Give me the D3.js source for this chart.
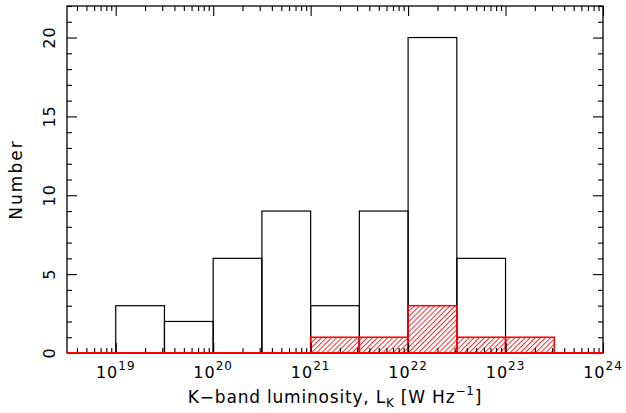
<!doctype html>
<html lang="en">
<head>
  <meta charset="utf-8">
  <title>K-band luminosity histogram</title>
</head>
<style>
body { margin: 0; background: #fff; }
svg text { font-family: "DejaVu Sans", sans-serif; fill: #000; }
</style>
<body>
  <script src="https://cdn.jsdelivr.net/npm/d3@7/dist/d3.min.js"></script>
  <script>

	// bin edges in log10(L_K), half-decade bins
	var binLo = [19, 19.5, 20, 20.5, 21, 21.5, 22, 22.5, 23];
	var allCounts = [3, 2, 6, 9, 3, 9, 20, 6, 0];
	var redCounts = [0, 0, 0, 0, 1, 1, 3, 1, 1];
	var decades = [19, 20, 21, 22, 23, 24];
	var yMajor = [0, 5, 10, 15, 20];

	var W = 626, H = 413,
		margin = { top: 6, right: 23, bottom: 60, left: 67 },
		width = W - margin.left - margin.right,
		height = H - margin.top - margin.bottom;

	var svg = d3.select("body").append("svg")
		.attr("width", W)
		.attr("height", H);

	var defs = svg.append("defs");
	defs.append("pattern")
		.attr("id", "hatch")
		.attr("patternUnits", "userSpaceOnUse")
		.attr("width", 3.6)
		.attr("height", 4)
		.attr("patternTransform", "rotate(45)")
		.append("line")
		.attr("x1", 0).attr("y1", 0)
		.attr("x2", 0).attr("y2", 4)
		.attr("stroke", "#ff0000")
		.attr("stroke-width", 1.6);

	var g = svg.append("g").attr("transform", "translate(" + margin.left + "," + margin.top + ")");

	// log10 values mapped linearly
	var x = d3.scaleLinear().domain([18.5, 24]).range([0, width]);
	var y = d3.scaleLinear().domain([0, 22]).range([height, 0]);

	// black histogram
	g.selectAll(".allbar")
		.data(binLo.filter(function (d, i) { return allCounts[i] > 0; }))
		.join("rect")
		.classed("allbar", true)
		.attr("x", function (d) { return x(d); })
		.attr("width", function (d) { return x(d + 0.5) - x(d); })
		.attr("y", function (d) { return y(allCounts[binLo.indexOf(d)]); })
		.attr("height", function (d) { return height - y(allCounts[binLo.indexOf(d)]); })
		.attr("fill", "none")
		.attr("stroke", "#000")
		.attr("stroke-width", 1.2);

	// red hatched histogram
	g.selectAll(".redbar")
		.data(binLo.filter(function (d, i) { return redCounts[i] > 0; }))
		.join("rect")
		.classed("redbar", true)
		.attr("x", function (d) { return x(d); })
		.attr("width", function (d) { return x(d + 0.5) - x(d); })
		.attr("y", function (d) { return y(redCounts[binLo.indexOf(d)]); })
		.attr("height", function (d) { return height - y(redCounts[binLo.indexOf(d)]); })
		.attr("fill", "url(#hatch)")
		.attr("stroke", "#ff0000")
		.attr("stroke-width", 1.5);

	// ticks
	var minors = [];
	for (var dcd = 18; dcd < 24; dcd++) {
		for (var k = 2; k <= 9; k++) {
			var v = dcd + Math.log10(k);
			if (v > 18.5 && v < 24) minors.push(v);
		}
	}
	var yMinor = d3.range(0, 23).filter(function (v) { return v % 5 !== 0; });

	function tickAxis(axisFn, scale, vals, size, tr) {
		var a = g.append("g")
			.attr("transform", tr)
			.call(axisFn(scale).tickValues(vals).tickSizeInner(size).tickSizeOuter(0).tickFormat(""));
		a.select(".domain").remove();
		a.selectAll("line").attr("stroke", "#000").attr("stroke-width", 1.1);
	}
	tickAxis(d3.axisBottom, x, decades, -10, "translate(0," + height + ")");
	tickAxis(d3.axisBottom, x, minors, -5, "translate(0," + height + ")");
	tickAxis(d3.axisTop, x, decades, -10, "translate(0,0)");
	tickAxis(d3.axisTop, x, minors, -5, "translate(0,0)");
	tickAxis(d3.axisLeft, y, yMajor, -10, "translate(0,0)");
	tickAxis(d3.axisLeft, y, yMinor, -5, "translate(0,0)");
	tickAxis(d3.axisRight, y, yMajor, -10, "translate(" + width + ",0)");
	tickAxis(d3.axisRight, y, yMinor, -5, "translate(" + width + ",0)");

	// frame
	g.append("rect")
		.attr("x", 0).attr("y", 0)
		.attr("width", width).attr("height", height)
		.attr("fill", "none")
		.attr("stroke", "#000")
		.attr("stroke-width", 1.3);
	// red zero line of the hatched histogram
	g.append("line")
		.attr("x1", 0).attr("x2", width)
		.attr("y1", height).attr("y2", height)
		.attr("stroke", "#ff0000")
		.attr("stroke-width", 2);

	// x tick labels
	var xl = g.selectAll(".xlab")
		.data(decades)
		.join("text")
		.classed("xlab", true)
		.attr("x", function (d) { return x(d); })
		.attr("y", height + 25)
		.attr("text-anchor", "middle")
		.attr("font-size", "16px")
		.attr("letter-spacing", "1px");
	xl.append("tspan").text("10");
	xl.append("tspan")
		.attr("dy", -8)
		.attr("font-size", "12px")
		.text(function (d) { return d; });

	// y tick labels
	g.selectAll(".ylab")
		.data(yMajor)
		.join("text")
		.classed("ylab", true)
		.attr("transform", function (d) { return "translate(-12," + y(d) + ") rotate(-90)"; })
		.attr("text-anchor", "middle")
		.attr("font-size", "16px")
		.attr("letter-spacing", "1px")
		.text(function (d) { return d; });

	// axis titles
	g.append("text")
		.attr("transform", "translate(-45," + (height / 2) + ") rotate(-90)")
		.attr("text-anchor", "middle")
		.attr("font-size", "17px")
		.attr("letter-spacing", "2px")
		.text("Number");

	var xt = g.append("text")
		.attr("x", width / 2)
		.attr("y", height + 50)
		.attr("text-anchor", "middle")
		.attr("font-size", "17px")
		.attr("letter-spacing", "0.8px");
	xt.append("tspan").text("K\u2212band luminosity, L");
	xt.append("tspan").attr("dy", 4).attr("font-size", "12px").text("K");
	xt.append("tspan").attr("dy", -4).text(" [W Hz");
	xt.append("tspan").attr("dy", -8).attr("font-size", "12px").text("\u22121");
	xt.append("tspan").attr("dy", 8).text("]");

  </script>
</body>
</html>
